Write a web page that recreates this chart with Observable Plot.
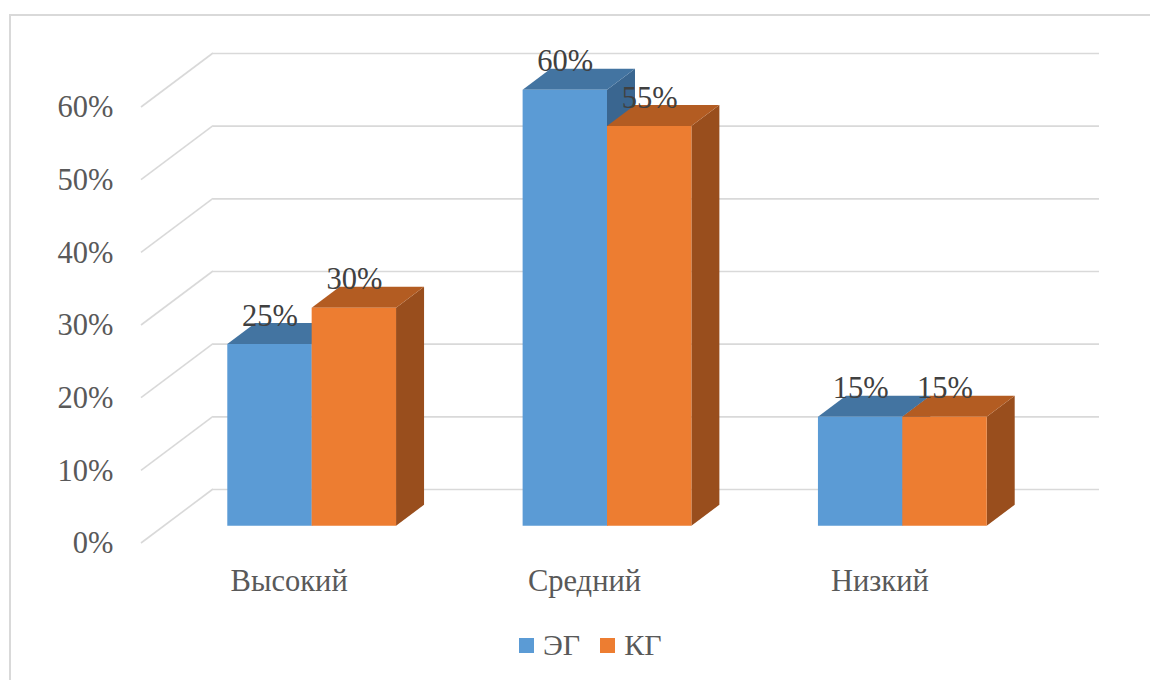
<!DOCTYPE html>
<html><head><meta charset="utf-8">
<script src="https://cdn.jsdelivr.net/npm/d3@7"></script>
<script src="https://cdn.jsdelivr.net/npm/@observablehq/plot@0.6"></script>
<style>
body{margin:0;background:#fff;}
#wrap{position:relative;width:1150px;height:680px;overflow:hidden;font-family:"Liberation Serif","Times New Roman",serif;}
#frame{position:absolute;left:9px;top:14px;width:1300px;height:800px;border:2px solid #d9d9d9;box-sizing:border-box;}
#chart{position:absolute;left:0;top:0;}
#chart svg text{font-family:"Liberation Serif","Times New Roman",serif !important;}
#legend{position:absolute;top:626px;left:519px;height:38px;display:flex;align-items:center;font-size:30px;color:#595959;}
.sw{width:15px;height:15px;display:inline-block;margin-right:9px;}
.item{display:flex;align-items:center;margin-right:20px;}
</style></head>
<body>
<div id="wrap"><div id="frame"></div><div id="chart"></div><div id="legend"></div></div>
<script>
const categories = ["Высокий", "Средний", "Низкий"];
const seriesNames = ["ЭГ", "КГ"];
const egValues = [0.25, 0.60, 0.15];
const kgValues = [0.30, 0.55, 0.15];
const yTicks = [0, 0.1, 0.2, 0.3, 0.4, 0.5, 0.6];
const seriesColors = {
  "ЭГ": {front: "#5B9BD5", top: "#4374A1", side: "#3A6690"},
  "КГ": {front: "#ED7D31", top: "#B35C22", side: "#994E1D"}
};

// depth geometry (pixels)
const DEPTH = 72, K = 0.75, D1 = 23, D2 = 51;
const W = 1 / 3.5; // bar width in category units (gap width 150%)
const FONT = "Liberation Serif";
const FS = 30.5;

const bars = categories.flatMap((c, i) => [egValues, kgValues].map((vals, s) => {
  const center = i + 0.5;
  const x0 = center - W + s * W;
  return {category: c, series: seriesNames[s], value: vals[i], x0, x1: x0 + W};
}));

const fmt = d => Math.round(d * 100) + "%";

function wallLines(index, scales) {
  const g = d3.create("svg:g").attr("stroke", "#d9d9d9").attr("stroke-width", 1.6).attr("fill", "none");
  const X = scales.x, Y = scales.y;
  for (const t of yTicks) {
    g.append("line")
      .attr("x1", X(0)).attr("y1", Y(t))
      .attr("x2", X(0) + DEPTH).attr("y2", Y(t) - DEPTH * K);
  }
  return g.node();
}

function bars3d(index, scales) {
  const g = d3.create("svg:g");
  const X = scales.x, Y = scales.y;
  const p = (x, y, d) => [x + d, y - d * K];
  const poly = (pts, fill) => g.append("polygon").attr("points", pts.map(q => q.join(",")).join(" ")).attr("fill", fill);
  for (const b of bars) {
    const xa = X(b.x0), xb = X(b.x1), yt = Y(b.value), yb = Y(0);
    const col = seriesColors[b.series];
    poly([p(xb, yt, D1), p(xb, yt, D2), p(xb, yb, D2), p(xb, yb, D1)], col.side);
    poly([p(xa, yt, D1), p(xb, yt, D1), p(xb, yt, D2), p(xa, yt, D2)], col.top);
    poly([p(xa, yt, D1), p(xb, yt, D1), p(xb, yb, D1), p(xa, yb, D1)], col.front);
  }
  return g.node();
}

const chart = Plot.plot({
  width: 1150,
  height: 615,
  marginLeft: 141,
  marginRight: 123,
  marginTop: 107,
  marginBottom: 72,
  x: {domain: [0, 3], axis: null},
  y: {domain: [0, 0.6], axis: null},
  style: {background: "transparent", overflow: "visible", fontFamily: FONT},
  marks: [
    Plot.ruleY(yTicks, {y: d => d, x1: () => 0, x2: () => 3, dx: DEPTH, dy: -DEPTH * K, stroke: "#d9d9d9", strokeWidth: 1.6}),
    wallLines,
    bars3d,
    Plot.text(yTicks, {x: () => 0, y: d => d, text: fmt, textAnchor: "end", dx: -28, fontSize: FS, fontFamily: FONT, fill: "#595959"}),
    Plot.text(categories, {x: (d, i) => i + 0.5, y: () => 0, text: d => d, dy: 38, fontSize: FS, fontFamily: FONT, fill: "#595959"}),
    Plot.text(bars, {x: d => (d.x0 + d.x1) / 2, y: "value", text: d => fmt(d.value), dx: D1, dy: -46, fontSize: FS, fontFamily: FONT, fill: "#404040"})
  ]
});
document.getElementById("chart").appendChild(chart);

const legend = d3.select("#legend");
for (const s of seriesNames) {
  const it = legend.append("div").attr("class", "item");
  it.append("span").attr("class", "sw").style("background", seriesColors[s].front);
  it.append("span").text(s);
}
</script>
</body></html>
